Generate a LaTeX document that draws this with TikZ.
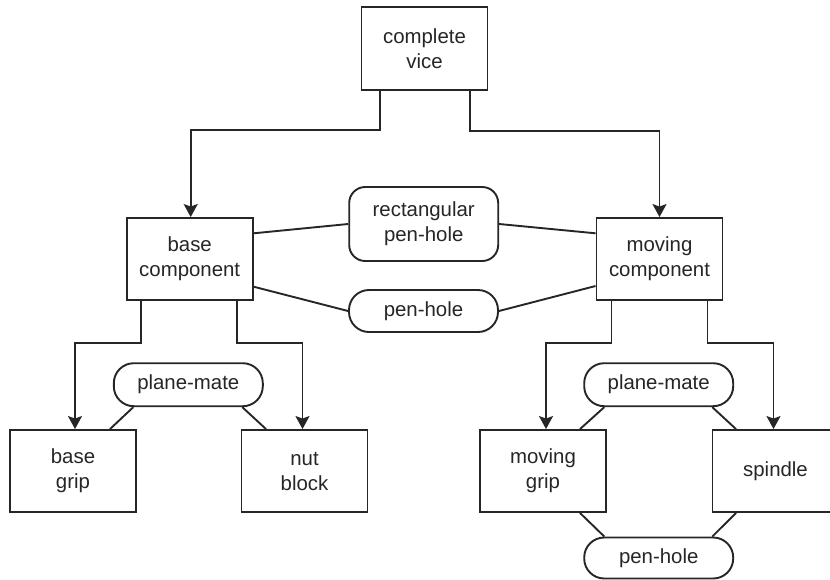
\documentclass[tikz,border=0pt]{standalone}
\usepackage{fontspec}
\setmainfont{Liberation Sans}
\usetikzlibrary{arrows.meta}
\begin{document}
\begin{tikzpicture}[x=1pt,y=-1pt,
  every node/.style={font=\fontsize{20.4}{25}\selectfont, text=black!85, align=center, inner sep=0pt},
  part/.style={draw=black!85, line width=1.9pt, fill=white, minimum width=126pt, minimum height=82pt},
  relation/.style={draw=black!85, line width=1.9pt, fill=white, minimum width=149pt},
  link/.style={draw=black!85, line width=1.9pt},
  arr/.style={link, -{Stealth[length=13pt, width=14pt, inset=2.5pt]}}]
\useasboundingbox (0,0) rectangle (830,579);
\clip (0,0) rectangle (830,579);

% assembly tree
\node[part, minimum height=83pt] (vice) at (424.5,48.5) {complete\\vice};
\node[part] (base) at (189.7,259) {base\\component};
\node[part] (moving) at (659.5,259) {moving\\component};
\node[part] (bgrip) at (73,471) {base\\grip};
\node[part] (nut) at (304.5,471) {nut\\block};
\node[part] (mgrip) at (543,471) {moving\\grip};
\node[part] (spindle) at (775.5,471) {spindle};

% mating relations
\node[relation, minimum height=74pt, rounded corners=16pt] (rph) at (423.7,224) {rectangular\\pen-hole};
\node[relation, minimum height=42pt, rounded corners=20pt] (ph1) at (423.5,311) {pen-hole};
\node[relation, minimum height=43pt, rounded corners=20pt] (pm1) at (188.3,384.7) {plane-mate};
\node[relation, minimum height=43pt, rounded corners=20pt] (pm2) at (658.7,384.7) {plane-mate};
\node[relation, minimum height=41pt, rounded corners=20pt] (ph2) at (658.7,558) {pen-hole};

% hierarchy arrows
\draw[arr] ([xshift=-44.5pt]vice.south) -- ++(0,39) -| ([xshift=1pt]base.north);
\draw[arr] ([xshift=45.5pt]vice.south) -- ++(0,40) -| (moving.north);
\draw[arr] ([xshift=-49pt]base.south) -- ++(0,41.7) -| ([xshift=2pt]bgrip.north);
\draw[arr] ([xshift=47pt]base.south) -- ++(0,41.7) -| ([xshift=-2pt]nut.north);
\draw[arr] ([xshift=-48pt]moving.south) -- ++(0,41.7) -| ([xshift=3pt]mgrip.north);
\draw[arr] ([xshift=48pt]moving.south) -- ++(0,41.7) -| ([xshift=-2pt]spindle.north);

% relation links
\draw[link] ([yshift=25.7pt]base.east) -- (rph.west);
\draw[link] ([yshift=-27.7pt]base.east) -- (ph1.west);
\draw[link] (rph.east) -- ([yshift=25.7pt]moving.west);
\draw[link] (ph1.east) -- ([yshift=-27pt]moving.west);
\draw[link] ([xshift=-55pt]pm1.south) -- ([xshift=37pt]bgrip.north);
\draw[link] ([xshift=54pt]pm1.south) -- ([xshift=-38.5pt]nut.north);
\draw[link] ([xshift=-54.4pt]pm2.south) -- ([xshift=37pt]mgrip.north);
\draw[link] ([xshift=53.6pt]pm2.south) -- ([xshift=-39.5pt]spindle.north);
\draw[link] ([xshift=-54.4pt]ph2.north) -- ([xshift=37pt]mgrip.south);
\draw[link] ([xshift=53.6pt]ph2.north) -- ([xshift=-39.5pt]spindle.south);
\end{tikzpicture}
\end{document}
